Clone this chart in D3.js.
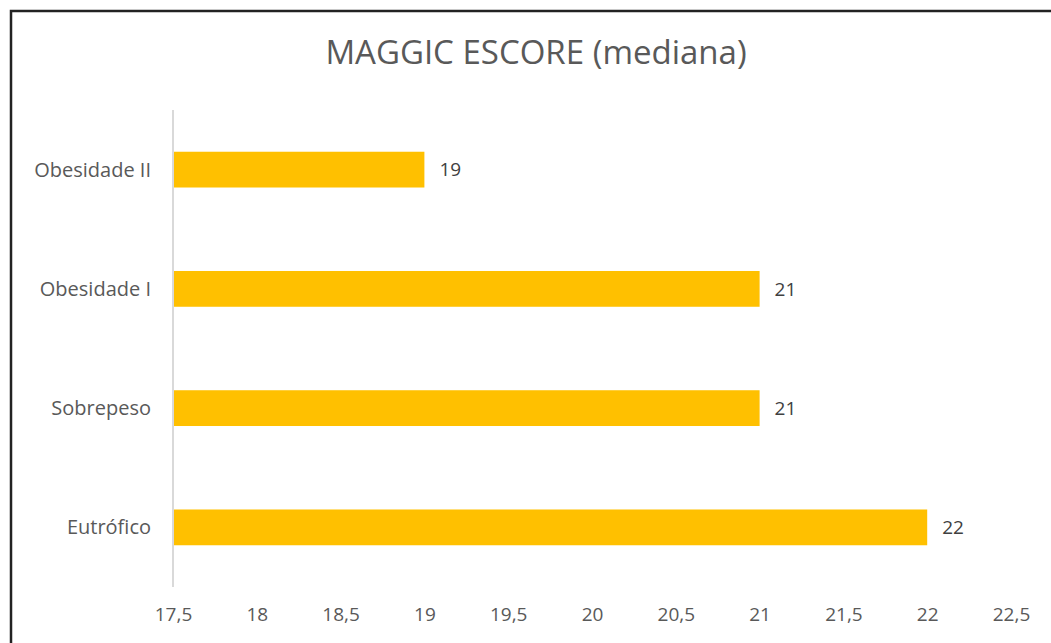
<!DOCTYPE html>
<html>
<head>
<meta charset="utf-8">
<script src="https://cdn.jsdelivr.net/npm/d3@7"></script>
<style>
  body { margin: 0; background: #fff; }
  svg { display: block; font-family: "Open Sans", "Liberation Sans", sans-serif; }
</style>
</head>
<body>
<div id="chart"></div>
<script>
// data
const categories = ['Obesidade II', 'Obesidade I', 'Sobrepeso', 'Eutrófico'];
const values = [19, 21, 21, 22];
const xTicks = [17.5, 18, 18.5, 19, 19.5, 20, 20.5, 21, 21.5, 22, 22.5];
const title = 'MAGGIC ESCORE (mediana)';

const width = 1051, height = 643;
const margin = { top: 110, right: 40, bottom: 56, left: 173 };

let svg = d3.select('#chart').append('svg')
    .attr('width', width)
    .attr('height', height);

// frame (bottom/right cut off in the reference)
svg.append('path')
    .attr('d', `M11,${height + 5} L11,11 L${width + 5},11`)
    .attr('fill', 'none')
    .attr('stroke', '#222')
    .attr('stroke-width', 2.5);

let x = d3.scaleLinear()
    .domain([17.5, 22.5])
    .range([margin.left, margin.left + 838]);

let y = d3.scaleBand()
    .domain(categories)
    .range([margin.top, height - margin.bottom])
    .paddingInner(0.7)
    .paddingOuter(0.35);

// title
svg.append('text')
    .attr('x', 536)
    .attr('y', 64)
    .attr('text-anchor', 'middle')
    .style('font-size', '33px')
    .style('fill', '#595959')
    .text(title);

// bars
svg.selectAll('.bar')
    .data(categories)
    .enter().append('rect')
    .attr('class', 'bar')
    .attr('x', x(17.5))
    .attr('y', d => y(d))
    .attr('width', (d, i) => x(values[i]) - x(17.5))
    .attr('height', y.bandwidth())
    .style('fill', '#FFC000');

// value labels
svg.selectAll('.val')
    .data(categories)
    .enter().append('text')
    .attr('class', 'val')
    .attr('x', (d, i) => x(values[i]) + 15)
    .attr('y', d => y(d) + y.bandwidth() / 2)
    .attr('dy', '0.35em')
    .style('font-size', '19px')
    .style('fill', '#404040')
    .text((d, i) => values[i]);

// category labels
svg.selectAll('.cat')
    .data(categories)
    .enter().append('text')
    .attr('class', 'cat')
    .attr('x', 151)
    .attr('y', d => y(d) + y.bandwidth() / 2)
    .attr('dy', '0.35em')
    .attr('text-anchor', 'end')
    .style('font-size', '20px')
    .style('fill', '#595959')
    .text(d => d);

// vertical axis line
svg.append('line')
    .attr('x1', x(17.5)).attr('x2', x(17.5))
    .attr('y1', margin.top).attr('y2', height - margin.bottom)
    .attr('stroke', '#d9d9d9')
    .attr('stroke-width', 2);

// x axis tick labels
let fmt = d => String(d).replace('.', ',');
let xAxis = svg.append('g')
    .attr('transform', `translate(0,${height - margin.bottom})`)
    .call(d3.axisBottom(x).tickValues(xTicks).tickFormat(fmt).tickSize(0).tickPadding(21));
xAxis.select('.domain').remove();
xAxis.selectAll('text')
    .style('font-size', '19px')
    .style('font-family', '"Open Sans", "Liberation Sans", sans-serif')
    .style('fill', '#595959');
</script>
</body>
</html>
